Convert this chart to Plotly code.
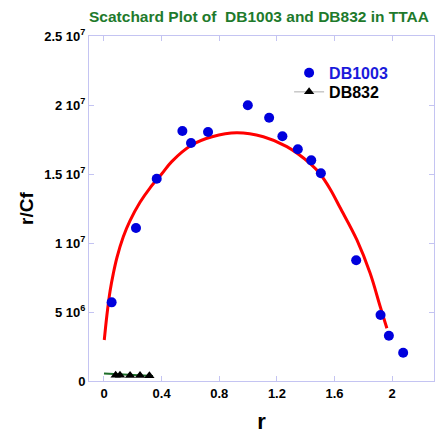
import plotly.graph_objects as go

# DB1003 data (r, r/Cf)
db1003_r = [0.053, 0.222, 0.366, 0.544, 0.604, 0.722, 0.998, 1.146, 1.238, 1.345, 1.438, 1.505, 1.75, 1.919, 1.977, 2.076]
db1003_y = [5.70e6, 11.09e6, 14.66e6, 18.12e6, 17.25e6, 18.04e6, 19.98e6, 19.08e6, 17.73e6, 16.79e6, 15.99e6, 15.05e6, 8.75e6, 4.78e6, 3.28e6, 2.05e6]

# DB1003 fitted curve
fit1003_r = [0.002, 0.02, 0.042, 0.065, 0.09, 0.134, 0.18, 0.25, 0.32, 0.40, 0.47, 0.609, 0.75, 0.921, 1.106, 1.269, 1.431, 1.5, 1.57, 1.639, 1.755, 1.847, 1.917, 1.963]
fit1003_y = [2.97e6, 4.75e6, 6.5e6, 7.8e6, 8.95e6, 10.45e6, 11.6e6, 12.95e6, 14.0e6, 15.0e6, 15.9e6, 17.10e6, 17.70e6, 17.99e6, 17.70e6, 16.98e6, 15.75e6, 15.0e6, 13.9e6, 12.55e6, 10.22e6, 7.80e6, 5.38e6, 3.82e6]

# DB832 data
db832_r = [0.081, 0.111, 0.181, 0.25, 0.315]
db832_y = [0.42e6, 0.41e6, 0.40e6, 0.40e6, 0.38e6]

# DB832 fit line
fit832_r = [0.0, 0.34]
fit832_y = [0.55e6, 0.36e6]

x_ticks = [0, 0.4, 0.8, 1.2, 1.6, 2.0]
x_ticklabels = ["0", "0.4", "0.8", "1.2", "1.6", "2"]
y_ticks = [0, 5e6, 1e7, 1.5e7, 2e7, 2.5e7]
y_ticklabels = ["0", "5 10<sup>6</sup>", "1 10<sup>7</sup>", "1.5 10<sup>7</sup>", "2 10<sup>7</sup>", "2.5 10<sup>7</sup>"]

FONT = "Arial, 'Liberation Sans', sans-serif"
AX = "#c4c4f2"

fig = go.Figure()
fig.add_trace(go.Scatter(x=fit1003_r, y=fit1003_y, mode="lines",
                         line=dict(color="#ff0000", width=3, shape="spline", smoothing=1.0),
                         showlegend=False, hoverinfo="skip"))
fig.add_trace(go.Scatter(x=fit832_r, y=fit832_y, mode="lines",
                         line=dict(color="#1e6e2a", width=2),
                         showlegend=False, hoverinfo="skip"))
fig.add_trace(go.Scatter(x=db1003_r, y=db1003_y, mode="markers",
                         marker=dict(color="#0000dd", size=10, symbol="circle"),
                         name="<span style='color:#1a1adb'>DB1003</span>", legend="legend"))
fig.add_trace(go.Scatter(x=db832_r, y=db832_y, mode="markers",
                         marker=dict(color="#000000", size=9, symbol="triangle-up"),
                         showlegend=False))
fig.add_trace(go.Scatter(x=[None], y=[None], mode="lines+markers",
                         marker=dict(color="#000000", size=9, symbol="triangle-up"),
                         line=dict(color="#c8c8c8", width=1.5),
                         name="DB832", legend="legend2"))

legend_common = dict(xanchor="left", yanchor="middle", bgcolor="rgba(0,0,0,0)",
                     font=dict(size=16, weight="bold", family=FONT), itemwidth=30)

fig.update_layout(
    width=435, height=434,
    margin=dict(l=89, r=1, t=36, b=53, autoexpand=False),
    paper_bgcolor="white", plot_bgcolor="white",
    font=dict(family=FONT, color="black"),
    title=dict(text="<b>Scatchard Plot of  DB1003 and DB832 in TTAA</b>",
               font=dict(size=15.5, color="#1e7a2c", family=FONT),
               x=259/435, xanchor="center", y=1 - 17/434, yanchor="middle"),
    legend=dict(x=0.58, y=0.893, **legend_common),
    legend2=dict(x=0.58, y=0.838, **legend_common),
    xaxis=dict(range=[-0.104, 2.29], tickvals=x_ticks, ticktext=x_ticklabels,
               showgrid=False, zeroline=False, showline=True, linecolor=AX, linewidth=1,
               mirror="ticks", ticks="inside", ticklen=5, tickcolor=AX, automargin=False,
               tickfont=dict(size=13, weight="bold"),
               title=dict(text="<b>r</b>", font=dict(size=22), standoff=16)),
    yaxis=dict(range=[0, 2.5e7], tickvals=y_ticks, ticktext=y_ticklabels,
               showgrid=False, zeroline=False, showline=True, linecolor=AX, linewidth=1,
               mirror="ticks", ticks="inside", ticklen=5, tickcolor=AX, automargin=False,
               tickfont=dict(size=13, weight="bold"),
               title=dict(text="<b>r/Cf</b>", font=dict(size=19), standoff=5)),
)

fig.write_html("out.html", config={"displayModeBar": False},
               post_script="document.body.style.margin='0';document.body.style.overflow='hidden';")
